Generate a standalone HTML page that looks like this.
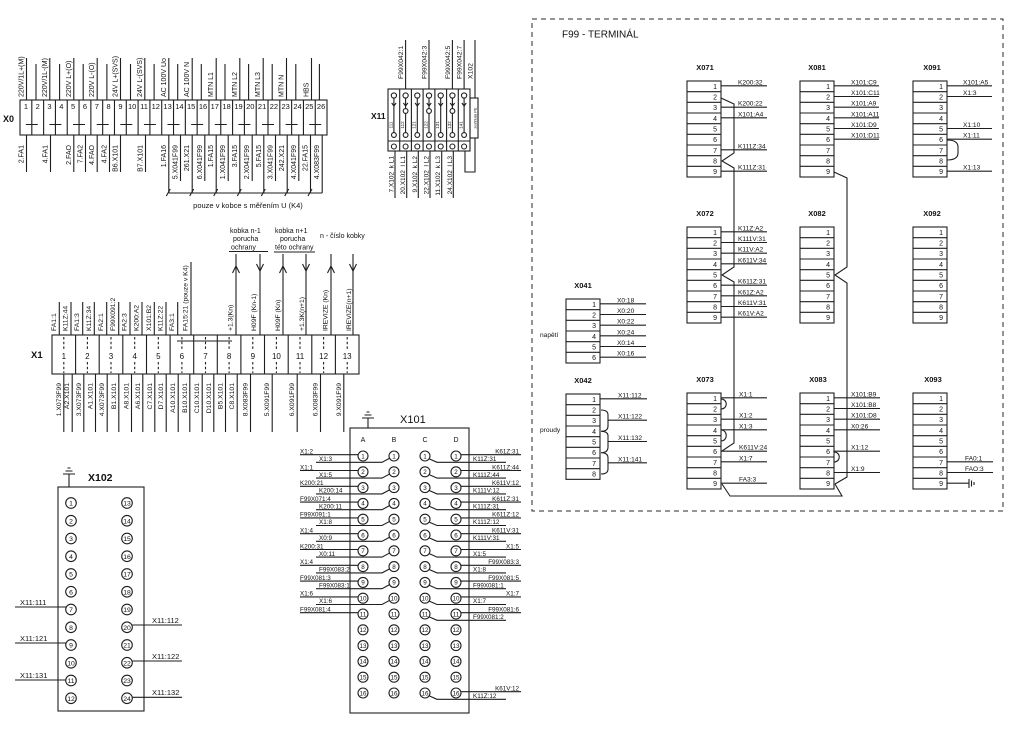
<!DOCTYPE html>
<html><head><meta charset="utf-8">
<style>
html,body{margin:0;padding:0;background:#fff;}
svg{display:block;}
text{font-family:"Liberation Sans",Arial,sans-serif;fill:#111;}
.l{stroke:#1e1e1e;stroke-width:1.1;fill:none;}
.c{stroke:#1e1e1e;stroke-width:1.1;fill:#fff;}
</style></head><body>
<svg width="1024" height="732" viewBox="0 0 1024 732" xmlns="http://www.w3.org/2000/svg">
<defs>
<g id="b9"><rect x="0" y="0" width="34" height="96" fill="none" stroke="#1e1e1e" stroke-width="1.1"/><path d="M0 10.67H34M0 21.33H34M0 32H34M0 42.67H34M0 53.33H34M0 64H34M0 74.67H34M0 85.33H34" fill="none" stroke="#1e1e1e" stroke-width="1.1"/></g>
<g id="b6"><rect x="0" y="0" width="34" height="64" fill="none" stroke="#1e1e1e" stroke-width="1.1"/><path d="M0 10.67H34M0 21.33H34M0 32H34M0 42.67H34M0 53.33H34" fill="none" stroke="#1e1e1e" stroke-width="1.1"/></g>
<g id="b8"><rect x="0" y="0" width="34" height="85.33" fill="none" stroke="#1e1e1e" stroke-width="1.1"/><path d="M0 10.67H34M0 21.33H34M0 32H34M0 42.67H34M0 53.33H34M0 64H34M0 74.67H34" fill="none" stroke="#1e1e1e" stroke-width="1.1"/></g>
</defs>

<!-- ================= X0 ================= -->
<text x="3" y="122" font-size="9" font-weight="bold">X0</text>
<rect class="l" x="20" y="100" width="307" height="35"/>
<path class="l" d="M31.81 100V135M43.62 100V135M55.43 100V135M67.24 100V135M79.05 100V135M90.86 100V135M102.67 100V135M114.48 100V135M126.29 100V135M138.1 100V135M149.91 100V135M161.72 100V135M173.53 100V135M185.34 100V135M197.15 100V135M208.96 100V135M220.77 100V135M232.58 100V135M244.39 100V135M256.2 100V135M268.01 100V135M279.82 100V135M291.63 100V135M303.44 100V135M315.25 100V135"/>
<text font-size="7.5" text-anchor="middle" y="109"><tspan x="25.9">1</tspan><tspan x="37.7">2</tspan><tspan x="49.5">3</tspan><tspan x="61.3">4</tspan><tspan x="73.1">5</tspan><tspan x="84.9">6</tspan><tspan x="96.8">7</tspan><tspan x="108.6">8</tspan><tspan x="120.4">9</tspan><tspan x="132.2">10</tspan><tspan x="144">11</tspan><tspan x="155.8">12</tspan><tspan x="167.6">13</tspan><tspan x="179.4">14</tspan><tspan x="191.2">15</tspan><tspan x="203">16</tspan><tspan x="214.8">17</tspan><tspan x="226.6">18</tspan><tspan x="238.5">19</tspan><tspan x="250.3">20</tspan><tspan x="262.1">21</tspan><tspan x="273.9">22</tspan><tspan x="285.7">23</tspan><tspan x="297.5">24</tspan><tspan x="309.3">25</tspan><tspan x="321.1">26</tspan></text>
<path class="l" stroke-width="1.4" d="M25.8 124.5H37.8M49.4 124.5H61.4M73 124.5H85M96.7 124.5H108.7M120.3 124.5H132.3M143.9 124.5H155.9M167.5 124.5H179.5M191.1 124.5H203.1M214.8 124.5H226.8M238.4 124.5H250.4M262 124.5H274M285.6 124.5H297.6M309.2 124.5H321.2"/>
<!-- top wires -->
<path class="l" d="M26.5 58V100M49.8 58V100M73.8 58V100M97.2 58V100M120.5 58V100M144.8 58V100M168.8 58V100M192.2 58V100M216.2 58V100M239.8 58V100M263.2 58V100M286.5 58V100M311.5 58V100"/>
<path class="l" d="M36 64V100M59.6 64V100M83.2 64V100M106.9 64V100M130.5 64V100M154.1 64V100M177.7 64V100M201.3 64V100M225 64V100M248.6 64V100M272.2 64V100M295.8 64V100M319.4 64V100"/>
<g font-size="7">
<text transform="translate(23.5,97) rotate(-90)">220V/1L+(M)</text>
<text transform="translate(46.8,97) rotate(-90)">220V/1L-(M)</text>
<text transform="translate(70.8,97) rotate(-90)">220V L+(O)</text>
<text transform="translate(94.2,97) rotate(-90)">220V L-(O)</text>
<text transform="translate(117.5,97) rotate(-90)">24V L+(SVS)</text>
<text transform="translate(141.8,97) rotate(-90)">24V L-(SVS)</text>
<text transform="translate(165.8,97) rotate(-90)">AC 100V Uo</text>
<text transform="translate(189.2,97) rotate(-90)">AC 100V N</text>
<text transform="translate(213.2,97) rotate(-90)">MTN L1</text>
<text transform="translate(236.8,97) rotate(-90)">MTN L2</text>
<text transform="translate(260.2,97) rotate(-90)">MTN L3</text>
<text transform="translate(283.5,97) rotate(-90)">MTN N</text>
<text transform="translate(308.5,97) rotate(-90)">HBS</text>
</g>
<!-- bottom wires -->
<path class="l" d="M26.5 135V172M50.5 135V172M73.8 135V172M85.5 135V172M97.2 135V172M109.5 135V172M120.5 135V172M145.5 135V172M168.8 135V193M180.5 135V181M192.2 135V193M204.8 135V181M216.2 135V193M228.2 135V181M239.8 135V193M252.2 135V181M263.8 135V193M275.5 135V181M287.2 135V193M298.8 135V181M310.5 135V193M322.2 135V193M168.8 193H322.2"/>
<path class="l" d="M166.3 196L170.3 189M189.7 196L193.7 189M213.7 196L217.7 189M237.3 196L241.3 189M261.3 196L265.3 189M284.7 196L288.7 189M308 196L312 189"/>
<g font-size="7" text-anchor="end">
<text transform="translate(23.5,145) rotate(-90)">2.FA1</text>
<text transform="translate(47.5,145) rotate(-90)">4.FA1</text>
<text transform="translate(70.8,145) rotate(-90)">2.FAO</text>
<text transform="translate(82.5,145) rotate(-90)">7.FA2</text>
<text transform="translate(94.2,145) rotate(-90)">4.FAO</text>
<text transform="translate(106.5,145) rotate(-90)">4.FA2</text>
<text transform="translate(117.5,145) rotate(-90)">B6.X101</text>
<text transform="translate(142.5,145) rotate(-90)">B7.X101</text>
<text transform="translate(165.8,145) rotate(-90)">1.FA16</text>
<text transform="translate(177.5,145) rotate(-90)">5.X041F99</text>
<text transform="translate(189.2,145) rotate(-90)">261.X21</text>
<text transform="translate(201.8,145) rotate(-90)">6.X041F99</text>
<text transform="translate(213.2,145) rotate(-90)">1.FA15</text>
<text transform="translate(225.2,145) rotate(-90)">1.X041F99</text>
<text transform="translate(236.8,145) rotate(-90)">3.FA15</text>
<text transform="translate(249.2,145) rotate(-90)">2.X041F99</text>
<text transform="translate(260.8,145) rotate(-90)">5.FA15</text>
<text transform="translate(272.5,145) rotate(-90)">3.X041F99</text>
<text transform="translate(284.2,145) rotate(-90)">242.X21</text>
<text transform="translate(295.8,145) rotate(-90)">4.X041F99</text>
<text transform="translate(307.5,145) rotate(-90)">22.FA15</text>
<text transform="translate(319.2,145) rotate(-90)">4.X083F99</text>
</g>
<text x="248" y="208" font-size="7.5" text-anchor="middle">pouze v kobce s měřením U (K4)</text>

<!-- ================= X11 ================= -->
<text x="371" y="119" font-size="8.5" font-weight="bold">X11</text>
<rect class="l" x="388" y="89" width="82" height="62"/>
<path class="l" d="M399.7 89V151M411.4 89V151M423.1 89V151M434.9 89V151M446.6 89V151M458.3 89V151"/>
<path class="l" d="M393.9 98V132.5M405.6 98V132.5M417.3 98V132.5M429 98V132.5M440.7 98V132.5M452.4 98V132.5M464.1 98V132.5"/>
<path class="l" d="M391.7 103L393.9 106L396.1 103M403.4 103L405.6 106L407.8 103M415.1 103L417.3 106L419.5 103M426.8 103L429 106L431.2 103M438.5 103L440.7 106L442.9 103M450.2 103L452.4 106L454.6 103M461.9 103L464.1 106L466.3 103"/>
<g class="c">
<circle cx="393.9" cy="95.5" r="2.6"/><circle cx="405.6" cy="95.5" r="2.6"/><circle cx="417.3" cy="95.5" r="2.6"/><circle cx="429" cy="95.5" r="2.6"/><circle cx="440.7" cy="95.5" r="2.6"/><circle cx="452.4" cy="95.5" r="2.6"/><circle cx="464.1" cy="95.5" r="2.6"/>
<circle cx="405.6" cy="111" r="2.4"/><circle cx="429" cy="111" r="2.4"/><circle cx="452.4" cy="111" r="2.4"/>
<circle cx="393.9" cy="135" r="2.4"/><circle cx="405.6" cy="135" r="2.4"/><circle cx="417.3" cy="135" r="2.4"/><circle cx="429" cy="135" r="2.4"/><circle cx="440.7" cy="135" r="2.4"/><circle cx="452.4" cy="135" r="2.4"/><circle cx="464.1" cy="135" r="2.4"/>
<circle cx="393.9" cy="146.5" r="2.5"/><circle cx="405.6" cy="146.5" r="2.5"/><circle cx="417.3" cy="146.5" r="2.5"/><circle cx="429" cy="146.5" r="2.5"/><circle cx="440.7" cy="146.5" r="2.5"/><circle cx="452.4" cy="146.5" r="2.5"/><circle cx="464.1" cy="146.5" r="2.5"/>
</g>
<path class="l" stroke-width="2.4" d="M388 141H470"/>
<g font-size="4.5" text-anchor="middle">
<text transform="translate(392.3,125) rotate(-90)">111</text>
<text transform="translate(404,125) rotate(-90)">112</text>
<text transform="translate(415.7,125) rotate(-90)">121</text>
<text transform="translate(427.4,125) rotate(-90)">122</text>
<text transform="translate(439.1,125) rotate(-90)">131</text>
<text transform="translate(450.8,125) rotate(-90)">132</text>
<text transform="translate(462.5,125) rotate(-90)">141</text>
</g>
<rect class="l" x="470" y="98" width="8" height="40"/>
<text transform="translate(476.5,118) rotate(-90)" font-size="4" text-anchor="middle">zel/žlutá PE</text>
<path class="l" d="M405.6 40V89M429 40V89M452.4 40V89M464.1 40V89M475 40V98M475 138V172H465V151"/>
<g font-size="6.8">
<text transform="translate(403,79) rotate(-90)">F99X042:1</text>
<text transform="translate(426.5,79) rotate(-90)">F99X042:3</text>
<text transform="translate(450,79) rotate(-90)">F99X042:5</text>
<text transform="translate(461.7,79) rotate(-90)">F99X042:7</text>
<text transform="translate(472.5,79) rotate(-90)">X102</text>
</g>
<path class="l" d="M395 151V198M406.7 151V198M418.3 151V198M430 151V198M441.7 151V198M453.3 151V198"/>
<g font-size="6.5" text-anchor="end">
<text transform="translate(393.5,156) rotate(-90)">7.X102 &#160;k L1</text>
<text transform="translate(405.2,156) rotate(-90)">20.X102 &#160;l L1</text>
<text transform="translate(416.8,156) rotate(-90)">9.X102 &#160;k L2</text>
<text transform="translate(428.5,156) rotate(-90)">22.X102 &#160;l L2</text>
<text transform="translate(440.2,156) rotate(-90)">11.X102 &#160;k L3</text>
<text transform="translate(451.8,156) rotate(-90)">24.X102 &#160;l L3</text>
</g>

<!-- ================= X1 ================= -->
<text x="31" y="358" font-size="9.5" font-weight="bold">X1</text>
<rect class="l" x="52" y="335" width="307" height="39"/>
<path class="l" d="M75.6 335V374M99.2 335V374M122.8 335V374M146.5 335V374M170.1 335V374M193.7 335V374M217.3 335V374M240.9 335V374M264.5 335V374M288.2 335V374M311.8 335V374M335.4 335V374"/>
<path class="l" d="M177 341H232"/>
<path class="l" stroke-dasharray="2.5,2.2" d="M63.8 337V350M63.8 362V373M87.4 337V350M87.4 362V373M111 337V350M111 362V373M134.7 337V350M134.7 362V373M158.3 337V350M158.3 362V373M181.9 337V350M181.9 362V373M205.5 337V350M205.5 362V373M229.1 337V350M229.1 362V373M252.8 337V350M252.8 362V373M276.4 337V350M276.4 362V373M300 337V350M300 362V373M323.6 337V350M323.6 362V373M347.2 337V350M347.2 362V373"/>
<text font-size="8" text-anchor="middle" y="359"><tspan x="63.8">1</tspan><tspan x="87.4">2</tspan><tspan x="111">3</tspan><tspan x="134.7">4</tspan><tspan x="158.3">5</tspan><tspan x="181.9">6</tspan><tspan x="205.5">7</tspan><tspan x="229.1">8</tspan><tspan x="252.8">9</tspan><tspan x="276.4">10</tspan><tspan x="300">11</tspan><tspan x="323.6">12</tspan><tspan x="347.2">13</tspan></text>
<path class="l" d="M59.3 302V335M71 302V335M82.7 302V335M94.3 302V335M106.7 302V335M118.7 302V335M130 302V335M142 302V335M154.3 302V335M166 302V335M177.7 302V335M191 262V335"/>
<path class="l" d="M236 254V335M260 254V335M283 254V335M306 254V335M331 254V335M353 254V335"/>
<path class="l" d="M232.5 273L236 266L239.5 273M256.5 264L260 271L263.5 264M279.5 273L283 266L286.5 273M302.5 264L306 271L309.5 264M327.5 273L331 266L334.5 273M349.5 264L353 271L356.5 264"/>
<g font-size="6.8">
<text transform="translate(55.8,331) rotate(-90)">FA1:1</text>
<text transform="translate(67.5,331) rotate(-90)">K11Z:44</text>
<text transform="translate(79.2,331) rotate(-90)">FA1:3</text>
<text transform="translate(90.8,331) rotate(-90)">K11Z:34</text>
<text transform="translate(103.2,331) rotate(-90)">FA2:1</text>
<text transform="translate(115.2,331) rotate(-90)">F99X091:2</text>
<text transform="translate(126.5,331) rotate(-90)">FA2:3</text>
<text transform="translate(138.5,331) rotate(-90)">K200:A2</text>
<text transform="translate(150.8,331) rotate(-90)">X101:B2</text>
<text transform="translate(162.5,331) rotate(-90)">K11Z:22</text>
<text transform="translate(174.2,331) rotate(-90)">FA3:1</text>
<text transform="translate(187.5,331) rotate(-90)">FA15:21 (pouze v K4)</text>
<text transform="translate(232.5,331) rotate(-90)">+1.3(Kn)</text>
<text transform="translate(255.8,331) rotate(-90)">H09F (Kn-1)</text>
<text transform="translate(279.8,331) rotate(-90)">H09F (Kn)</text>
<text transform="translate(304.2,331) rotate(-90)">+1.3K(n+1)</text>
<text transform="translate(327.5,331) rotate(-90)">IREVIZE (Kn)</text>
<text transform="translate(350.8,331) rotate(-90)">IREVIZE(n+1)</text>
</g>
<g font-size="7">
<text x="230" y="233">kobka n-1</text>
<text x="233" y="241">porucha</text>
<text x="231" y="249.5">ochrany</text>
<text x="275" y="233">kobka n+1</text>
<text x="280" y="241">porucha</text>
<text x="275" y="249.5">této ochrany</text>
<text x="320" y="238">n - číslo kobky</text>
</g>
<path class="l" d="M229 251.5H268M274 252H315"/>
<path class="l" d="M63.8 374V432M72.2 374V432M83.8 374V432M95.5 374V432M107.2 374V432M118.8 374V432M131.5 374V432M142.8 374V432M154.8 374V432M166.2 374V432M178.2 374V432M189.8 374V432M202.2 374V432M213.8 374V432M225.5 374V432M237.2 374V432M250.5 374V432M272.2 374V432M297.2 374V432M320.5 374V432M343.8 374V432"/>
<g font-size="6.8" text-anchor="end">
<text transform="translate(60.8,383) rotate(-90)">1.X073F99</text>
<text transform="translate(69.2,383) rotate(-90)">A2.X101</text>
<text transform="translate(80.8,383) rotate(-90)">3.X073F99</text>
<text transform="translate(92.5,383) rotate(-90)">A1.X101</text>
<text transform="translate(104.2,383) rotate(-90)">4.X073F99</text>
<text transform="translate(115.8,383) rotate(-90)">B1.X101</text>
<text transform="translate(128.5,383) rotate(-90)">A8.X101</text>
<text transform="translate(139.8,383) rotate(-90)">A6.X101</text>
<text transform="translate(151.8,383) rotate(-90)">C7.X101</text>
<text transform="translate(163.2,383) rotate(-90)">D7.X101</text>
<text transform="translate(175.2,383) rotate(-90)">A10.X101</text>
<text transform="translate(186.8,383) rotate(-90)">B10.X101</text>
<text transform="translate(199.2,383) rotate(-90)">C10.X101</text>
<text transform="translate(210.8,383) rotate(-90)">D10.X101</text>
<text transform="translate(222.5,383) rotate(-90)">B5.X101</text>
<text transform="translate(234.2,383) rotate(-90)">C8.X101</text>
<text transform="translate(247.5,383) rotate(-90)">8.X083F99</text>
<text transform="translate(269.2,383) rotate(-90)">5.X091F99</text>
<text transform="translate(294.2,383) rotate(-90)">6.X091F99</text>
<text transform="translate(317.5,383) rotate(-90)">6.X083F99</text>
<text transform="translate(340.8,383) rotate(-90)">9.X091F99</text>
</g>

<!-- ================= X102 ================= -->
<path class="l" d="M69 474V487M63 474H75M65.5 471H72.5M67.5 468H70.5"/>
<text x="88" y="481" font-size="10.5" font-weight="bold">X102</text>
<rect class="l" x="58" y="487" width="86" height="224"/>
<g class="c">
<circle cx="71" cy="503" r="5.3"/><circle cx="71" cy="520.75" r="5.3"/><circle cx="71" cy="538.5" r="5.3"/><circle cx="71" cy="556.25" r="5.3"/><circle cx="71" cy="574" r="5.3"/><circle cx="71" cy="591.75" r="5.3"/><circle cx="71" cy="609.5" r="5.3"/><circle cx="71" cy="627.25" r="5.3"/><circle cx="71" cy="645" r="5.3"/><circle cx="71" cy="662.75" r="5.3"/><circle cx="71" cy="680.5" r="5.3"/><circle cx="71" cy="698.25" r="5.3"/>
<circle cx="127" cy="503" r="5.3"/><circle cx="127" cy="520.75" r="5.3"/><circle cx="127" cy="538.5" r="5.3"/><circle cx="127" cy="556.25" r="5.3"/><circle cx="127" cy="574" r="5.3"/><circle cx="127" cy="591.75" r="5.3"/><circle cx="127" cy="609.5" r="5.3"/><circle cx="127" cy="627.25" r="5.3"/><circle cx="127" cy="645" r="5.3"/><circle cx="127" cy="662.75" r="5.3"/><circle cx="127" cy="680.5" r="5.3"/><circle cx="127" cy="698.25" r="5.3"/>
</g>
<text font-size="6.8" text-anchor="middle"><tspan x="71" y="505.5">1</tspan><tspan x="71" y="523.3">2</tspan><tspan x="71" y="541">3</tspan><tspan x="71" y="558.8">4</tspan><tspan x="71" y="576.5">5</tspan><tspan x="71" y="594.3">6</tspan><tspan x="71" y="612">7</tspan><tspan x="71" y="629.8">8</tspan><tspan x="71" y="647.5">9</tspan><tspan x="71" y="665.3">10</tspan><tspan x="71" y="683">11</tspan><tspan x="71" y="700.8">12</tspan><tspan x="127" y="505.5">13</tspan><tspan x="127" y="523.3">14</tspan><tspan x="127" y="541">15</tspan><tspan x="127" y="558.8">16</tspan><tspan x="127" y="576.5">17</tspan><tspan x="127" y="594.3">18</tspan><tspan x="127" y="612">19</tspan><tspan x="127" y="629.8">20</tspan><tspan x="127" y="647.5">21</tspan><tspan x="127" y="665.3">22</tspan><tspan x="127" y="683">23</tspan><tspan x="127" y="700.8">24</tspan></text>
<path class="l" d="M15 607H66M15 643H66M15 680H66M132 625H182M132 661H182M132 697.3H182"/>
<g font-size="7.5">
<text x="20" y="605">X11:111</text>
<text x="20" y="641">X11:121</text>
<text x="20" y="678">X11:131</text>
<text x="152" y="623">X11:112</text>
<text x="152" y="659">X11:122</text>
<text x="152" y="695">X11:132</text>
</g>

<!-- ================= X101 ================= -->
<path class="l" d="M368 418V428M362 418H374M364.5 415H371.5M366.5 412H369.5"/>
<text x="400" y="423" font-size="11">X101</text>
<rect class="l" x="350" y="428" width="119" height="285"/>
<text font-size="7" text-anchor="middle" y="442"><tspan x="363">A</tspan><tspan x="394">B</tspan><tspan x="425">C</tspan><tspan x="456">D</tspan></text>
<path class="l" d="M300 454.7H358M300 470.5H358M300 486.3H358M300 502.1H358M300 517.9H358M300 533.7H358M300 549.5H358M300 565.3H358M300 581.1H358M300 596.9H358M300 612.7H358"/>
<path class="l" d="M316 462.3H382L390 458M316 478.1H382L390 473.8M316 493.9H382L390 489.6M316 509.7H382L390 505.4M316 525.5H382L390 521.2M316 541.3H382L390 537M316 557.1H382L390 552.8M316 572.9H382L390 568.6M316 588.7H382L390 584.4M316 604.5H382L390 600.2"/>
<path class="l" d="M461 454.7H521M461 470.5H521M461 486.3H521M461 502.1H521M461 517.9H521M461 533.7H521M461 549.5H521M461 565.3H521M461 581.1H521M461 596.9H521M461 612.7H521M461 691.7H521"/>
<path class="l" d="M429.5 459L437 462.3H506M429.5 474.8L437 478.1H506M429.5 490.6L437 493.9H506M429.5 506.4L437 509.7H506M429.5 522.2L437 525.5H506M429.5 538L437 541.3H506M429.5 553.8L437 557.1H506M429.5 569.6L437 572.9H506M429.5 585.4L437 588.7H506M429.5 601.2L437 604.5H506M429.5 617L437 620.3H506M429.5 696L437 699.3H506"/>
<g class="c">
<circle cx="363" cy="456" r="5"/><circle cx="363" cy="471.8" r="5"/><circle cx="363" cy="487.6" r="5"/><circle cx="363" cy="503.4" r="5"/><circle cx="363" cy="519.2" r="5"/><circle cx="363" cy="535" r="5"/><circle cx="363" cy="550.8" r="5"/><circle cx="363" cy="566.6" r="5"/><circle cx="363" cy="582.4" r="5"/><circle cx="363" cy="598.2" r="5"/><circle cx="363" cy="614" r="5"/><circle cx="363" cy="629.8" r="5"/><circle cx="363" cy="645.6" r="5"/><circle cx="363" cy="661.4" r="5"/><circle cx="363" cy="677.2" r="5"/><circle cx="363" cy="693" r="5"/>
<circle cx="394" cy="456" r="5"/><circle cx="394" cy="471.8" r="5"/><circle cx="394" cy="487.6" r="5"/><circle cx="394" cy="503.4" r="5"/><circle cx="394" cy="519.2" r="5"/><circle cx="394" cy="535" r="5"/><circle cx="394" cy="550.8" r="5"/><circle cx="394" cy="566.6" r="5"/><circle cx="394" cy="582.4" r="5"/><circle cx="394" cy="598.2" r="5"/><circle cx="394" cy="614" r="5"/><circle cx="394" cy="629.8" r="5"/><circle cx="394" cy="645.6" r="5"/><circle cx="394" cy="661.4" r="5"/><circle cx="394" cy="677.2" r="5"/><circle cx="394" cy="693" r="5"/>
<circle cx="425" cy="456" r="5"/><circle cx="425" cy="471.8" r="5"/><circle cx="425" cy="487.6" r="5"/><circle cx="425" cy="503.4" r="5"/><circle cx="425" cy="519.2" r="5"/><circle cx="425" cy="535" r="5"/><circle cx="425" cy="550.8" r="5"/><circle cx="425" cy="566.6" r="5"/><circle cx="425" cy="582.4" r="5"/><circle cx="425" cy="598.2" r="5"/><circle cx="425" cy="614" r="5"/><circle cx="425" cy="629.8" r="5"/><circle cx="425" cy="645.6" r="5"/><circle cx="425" cy="661.4" r="5"/><circle cx="425" cy="677.2" r="5"/><circle cx="425" cy="693" r="5"/>
<circle cx="456" cy="456" r="5"/><circle cx="456" cy="471.8" r="5"/><circle cx="456" cy="487.6" r="5"/><circle cx="456" cy="503.4" r="5"/><circle cx="456" cy="519.2" r="5"/><circle cx="456" cy="535" r="5"/><circle cx="456" cy="550.8" r="5"/><circle cx="456" cy="566.6" r="5"/><circle cx="456" cy="582.4" r="5"/><circle cx="456" cy="598.2" r="5"/><circle cx="456" cy="614" r="5"/><circle cx="456" cy="629.8" r="5"/><circle cx="456" cy="645.6" r="5"/><circle cx="456" cy="661.4" r="5"/><circle cx="456" cy="677.2" r="5"/><circle cx="456" cy="693" r="5"/>
</g>
<g font-size="6.3" text-anchor="middle">
<text><tspan x="363" y="458.3">1</tspan><tspan x="363" y="474.1">2</tspan><tspan x="363" y="489.9">3</tspan><tspan x="363" y="505.7">4</tspan><tspan x="363" y="521.5">5</tspan><tspan x="363" y="537.3">6</tspan><tspan x="363" y="553.1">7</tspan><tspan x="363" y="568.9">8</tspan><tspan x="363" y="584.7">9</tspan><tspan x="363" y="600.5">10</tspan><tspan x="363" y="616.3">11</tspan><tspan x="363" y="632.1">12</tspan><tspan x="363" y="647.9">13</tspan><tspan x="363" y="663.7">14</tspan><tspan x="363" y="679.5">15</tspan><tspan x="363" y="695.3">16</tspan></text>
<text><tspan x="394" y="458.3">1</tspan><tspan x="394" y="474.1">2</tspan><tspan x="394" y="489.9">3</tspan><tspan x="394" y="505.7">4</tspan><tspan x="394" y="521.5">5</tspan><tspan x="394" y="537.3">6</tspan><tspan x="394" y="553.1">7</tspan><tspan x="394" y="568.9">8</tspan><tspan x="394" y="584.7">9</tspan><tspan x="394" y="600.5">10</tspan><tspan x="394" y="616.3">11</tspan><tspan x="394" y="632.1">12</tspan><tspan x="394" y="647.9">13</tspan><tspan x="394" y="663.7">14</tspan><tspan x="394" y="679.5">15</tspan><tspan x="394" y="695.3">16</tspan></text>
<text><tspan x="425" y="458.3">1</tspan><tspan x="425" y="474.1">2</tspan><tspan x="425" y="489.9">3</tspan><tspan x="425" y="505.7">4</tspan><tspan x="425" y="521.5">5</tspan><tspan x="425" y="537.3">6</tspan><tspan x="425" y="553.1">7</tspan><tspan x="425" y="568.9">8</tspan><tspan x="425" y="584.7">9</tspan><tspan x="425" y="600.5">10</tspan><tspan x="425" y="616.3">11</tspan><tspan x="425" y="632.1">12</tspan><tspan x="425" y="647.9">13</tspan><tspan x="425" y="663.7">14</tspan><tspan x="425" y="679.5">15</tspan><tspan x="425" y="695.3">16</tspan></text>
<text><tspan x="456" y="458.3">1</tspan><tspan x="456" y="474.1">2</tspan><tspan x="456" y="489.9">3</tspan><tspan x="456" y="505.7">4</tspan><tspan x="456" y="521.5">5</tspan><tspan x="456" y="537.3">6</tspan><tspan x="456" y="553.1">7</tspan><tspan x="456" y="568.9">8</tspan><tspan x="456" y="584.7">9</tspan><tspan x="456" y="600.5">10</tspan><tspan x="456" y="616.3">11</tspan><tspan x="456" y="632.1">12</tspan><tspan x="456" y="647.9">13</tspan><tspan x="456" y="663.7">14</tspan><tspan x="456" y="679.5">15</tspan><tspan x="456" y="695.3">16</tspan></text>
</g>
<g font-size="6.3">
<text x="300" y="453.5">X1:2</text>
<text x="300" y="469.3">X1:1</text>
<text x="300" y="485.1">K200:21</text>
<text x="300" y="500.9">F99X071:4</text>
<text x="300" y="516.7">F99X091:1</text>
<text x="300" y="532.5">X1:4</text>
<text x="300" y="548.3">K200:31</text>
<text x="300" y="564.1">X1:4</text>
<text x="300" y="579.9">F99X081:3</text>
<text x="300" y="595.7">X1:6</text>
<text x="300" y="611.5">F99X081:4</text>
<text x="319" y="461">X1:3</text>
<text x="319" y="476.8">X1:5</text>
<text x="319" y="492.6">K200:14</text>
<text x="319" y="508.4">K200:11</text>
<text x="319" y="524.2">X1:8</text>
<text x="319" y="540">X0:9</text>
<text x="319" y="555.8">X0:11</text>
<text x="319" y="571.6">F99X083:2</text>
<text x="319" y="587.4">F99X083:1</text>
<text x="319" y="603.2">X1:6</text>
<text x="473" y="461">K11Z:31</text>
<text x="473" y="476.8">K111Z:44</text>
<text x="473" y="492.6">K111V:12</text>
<text x="473" y="508.4">K111Z:31</text>
<text x="473" y="524.2">K111Z:12</text>
<text x="473" y="540">K111V:31</text>
<text x="473" y="555.8">X1:5</text>
<text x="473" y="571.6">X1:8</text>
<text x="473" y="587.4">F99X081:1</text>
<text x="473" y="603.2">X1:7</text>
<text x="473" y="619">F99X081:2</text>
<text x="473" y="698">K11Z:12</text>
</g>
<g font-size="6.3" text-anchor="end">
<text x="519" y="453.5">K61Z:31</text>
<text x="519" y="469.3">K611Z:44</text>
<text x="519" y="485.1">K611V:12</text>
<text x="519" y="500.9">K611Z:31</text>
<text x="519" y="516.7">K611Z:12</text>
<text x="519" y="532.5">K611V:31</text>
<text x="519" y="548.3">X1:5</text>
<text x="519" y="564.1">F99X083:3</text>
<text x="519" y="579.9">F99X081:5</text>
<text x="519" y="595.7">X1:7</text>
<text x="519" y="611.5">F99X081:6</text>
<text x="519" y="690.5">K61V:12</text>
</g>

<!-- ================= F99 TERMINAL ================= -->
<rect x="532" y="19" width="471" height="492" fill="none" stroke="#2a2a2a" stroke-width="1" stroke-dasharray="5,4"/>
<text x="562" y="37.5" font-size="10">F99 - TERMINÁL</text>

<g font-size="7.5" font-weight="bold" text-anchor="middle">
<text x="705" y="70">X071</text><text x="817" y="70">X081</text><text x="932" y="70">X091</text>
<text x="705" y="216">X072</text><text x="817" y="216">X082</text><text x="932" y="216">X092</text>
<text x="583" y="288">X041</text>
<text x="583" y="383">X042</text><text x="705" y="382">X073</text><text x="818" y="382">X083</text><text x="933" y="382">X093</text>
</g>

<use href="#b9" x="687" y="81"/><use href="#b9" x="800" y="81"/><use href="#b9" x="913" y="81"/>
<use href="#b9" x="687" y="227"/><use href="#b9" x="800" y="227"/><use href="#b9" x="913" y="227"/>
<use href="#b9" x="687" y="393"/><use href="#b9" x="800" y="393"/><use href="#b9" x="913" y="393"/>
<use href="#b6" x="566" y="299"/>
<use href="#b8" x="566" y="394"/>

<g font-size="7" text-anchor="end">
<text><tspan x="717" y="88.8">1</tspan><tspan x="717" y="99.5">2</tspan><tspan x="717" y="110.2">3</tspan><tspan x="717" y="120.8">4</tspan><tspan x="717" y="131.5">5</tspan><tspan x="717" y="142.2">6</tspan><tspan x="717" y="152.8">7</tspan><tspan x="717" y="163.5">8</tspan><tspan x="717" y="174.2">9</tspan></text>
<text><tspan x="830" y="88.8">1</tspan><tspan x="830" y="99.5">2</tspan><tspan x="830" y="110.2">3</tspan><tspan x="830" y="120.8">4</tspan><tspan x="830" y="131.5">5</tspan><tspan x="830" y="142.2">6</tspan><tspan x="830" y="152.8">7</tspan><tspan x="830" y="163.5">8</tspan><tspan x="830" y="174.2">9</tspan></text>
<text><tspan x="943" y="88.8">1</tspan><tspan x="943" y="99.5">2</tspan><tspan x="943" y="110.2">3</tspan><tspan x="943" y="120.8">4</tspan><tspan x="943" y="131.5">5</tspan><tspan x="943" y="142.2">6</tspan><tspan x="943" y="152.8">7</tspan><tspan x="943" y="163.5">8</tspan><tspan x="943" y="174.2">9</tspan></text>
<text><tspan x="717" y="234.8">1</tspan><tspan x="717" y="245.5">2</tspan><tspan x="717" y="256.2">3</tspan><tspan x="717" y="266.8">4</tspan><tspan x="717" y="277.5">5</tspan><tspan x="717" y="288.2">6</tspan><tspan x="717" y="298.8">7</tspan><tspan x="717" y="309.5">8</tspan><tspan x="717" y="320.2">9</tspan></text>
<text><tspan x="830" y="234.8">1</tspan><tspan x="830" y="245.5">2</tspan><tspan x="830" y="256.2">3</tspan><tspan x="830" y="266.8">4</tspan><tspan x="830" y="277.5">5</tspan><tspan x="830" y="288.2">6</tspan><tspan x="830" y="298.8">7</tspan><tspan x="830" y="309.5">8</tspan><tspan x="830" y="320.2">9</tspan></text>
<text><tspan x="943" y="234.8">1</tspan><tspan x="943" y="245.5">2</tspan><tspan x="943" y="256.2">3</tspan><tspan x="943" y="266.8">4</tspan><tspan x="943" y="277.5">5</tspan><tspan x="943" y="288.2">6</tspan><tspan x="943" y="298.8">7</tspan><tspan x="943" y="309.5">8</tspan><tspan x="943" y="320.2">9</tspan></text>
<text><tspan x="717" y="400.8">1</tspan><tspan x="717" y="411.5">2</tspan><tspan x="717" y="422.2">3</tspan><tspan x="717" y="432.8">4</tspan><tspan x="717" y="443.5">5</tspan><tspan x="717" y="454.2">6</tspan><tspan x="717" y="464.8">7</tspan><tspan x="717" y="475.5">8</tspan><tspan x="717" y="486.2">9</tspan></text>
<text><tspan x="830" y="400.8">1</tspan><tspan x="830" y="411.5">2</tspan><tspan x="830" y="422.2">3</tspan><tspan x="830" y="432.8">4</tspan><tspan x="830" y="443.5">5</tspan><tspan x="830" y="454.2">6</tspan><tspan x="830" y="464.8">7</tspan><tspan x="830" y="475.5">8</tspan><tspan x="830" y="486.2">9</tspan></text>
<text><tspan x="943" y="400.8">1</tspan><tspan x="943" y="411.5">2</tspan><tspan x="943" y="422.2">3</tspan><tspan x="943" y="432.8">4</tspan><tspan x="943" y="443.5">5</tspan><tspan x="943" y="454.2">6</tspan><tspan x="943" y="464.8">7</tspan><tspan x="943" y="475.5">8</tspan><tspan x="943" y="486.2">9</tspan></text>
<text><tspan x="596" y="306.8">1</tspan><tspan x="596" y="317.5">2</tspan><tspan x="596" y="328.2">3</tspan><tspan x="596" y="338.8">4</tspan><tspan x="596" y="349.5">5</tspan><tspan x="596" y="360.2">6</tspan></text>
<text><tspan x="596" y="401.8">1</tspan><tspan x="596" y="412.5">2</tspan><tspan x="596" y="423.2">3</tspan><tspan x="596" y="433.8">4</tspan><tspan x="596" y="444.5">5</tspan><tspan x="596" y="455.2">6</tspan><tspan x="596" y="465.8">7</tspan><tspan x="596" y="476.5">8</tspan></text>
</g>

<path class="l" d="M721 85.8H767M721 107.2H767M721 117.8H767M721 149.8H767M721 171.2H767
M834 85.8H879M834 96.5H879M834 107.2H879M834 117.8H879M834 128.5H879M834 139.2H879
M947 85.8H992M947 96.5H992M947 128.5H992M947 139.2H992M947 171.2H992
M721 231.8H767M721 242.5H767M721 253.2H767M721 263.8H767M721 285.2H767M721 295.8H767M721 306.5H767M721 317.2H767
M600 303.8H646M600 314.5H646M600 325.2H646M600 335.8H646M600 346.5H646M600 357.2H646
M721 397.8H767M721 419.2H767M721 429.8H767M721 451.2H767M721 461.8H767M721 483.2H767
M834 397.8H880M834 408.5H880M834 419.2H880M834 429.8H880M834 451.2H880M834 472.5H880
M947 461.8H993M947 472.5H993
M600 398.8H647M608 420.2H647M608 441.5H647M608 462.8H647"/>
<path class="l" d="M721 98L734 104V153L722 161L734 168V267L722 275L734 282V443L722 451"/>
<path class="l" d="M834 172L847 178V267L835 275L847 283V477L835 484"/>
<path class="l" d="M722 484L730 496H842L835 484"/>
<path class="l" d="M721 399C728 399 728 409 721 409M721 430C728 430 728 441 721 441M834 452C841 452 841 462 834 462"/>
<path class="l" d="M947 140Q958 140 958 147V153Q958 160 947 160"/>
<path class="l" d="M601 410Q608 410 608 415V426Q608 431.3 601 431.3M601 431.3Q608 431.3 608 436V447Q608 452.7 601 452.7M601 452.7Q608 452.7 608 458V469Q608 474 601 474"/>
<path class="l" d="M947 483.2H969M969 479V488M971.5 480.5V486.5M974 482V485"/>

<g font-size="6.6">
<text x="738" y="84.3">K200:32</text>
<text x="738" y="105.7">K200:22</text>
<text x="738" y="116.3">X101:A4</text>
<text x="738" y="148.3">K111Z:34</text>
<text x="738" y="169.7">K111Z:31</text>
<text x="851" y="84.3">X101:C9</text>
<text x="851" y="95">X101:C11</text>
<text x="851" y="105.7">X101:A9</text>
<text x="851" y="116.3">X101:A11</text>
<text x="851" y="127">X101:D9</text>
<text x="851" y="137.7">X101:D11</text>
<text x="963" y="84.3">X101:A5</text>
<text x="963" y="95">X1:3</text>
<text x="963" y="127">X1:10</text>
<text x="963" y="137.7">X1:11</text>
<text x="963" y="169.7">X1:13</text>
<text x="738" y="230.3">K11Z:A2</text>
<text x="738" y="241">K111V:31</text>
<text x="738" y="251.7">K11V:A2</text>
<text x="738" y="262.3">K611V:34</text>
<text x="738" y="283.7">K611Z:31</text>
<text x="738" y="294.3">K61Z:A2</text>
<text x="738" y="305">K611V:31</text>
<text x="738" y="315.7">K61V:A2</text>
<text x="617" y="302.3">X0:18</text>
<text x="617" y="313">X0:20</text>
<text x="617" y="323.7">X0:22</text>
<text x="617" y="334.3">X0:24</text>
<text x="617" y="345">X0:14</text>
<text x="617" y="355.7">X0:16</text>
<text x="739" y="396.3">X1:1</text>
<text x="739" y="417.7">X1:2</text>
<text x="739" y="428.3">X1:3</text>
<text x="739" y="449.7">K611V:24</text>
<text x="739" y="460.3">X1:7</text>
<text x="739" y="481.7">FA3:3</text>
<text x="851" y="396.3">X101:B9</text>
<text x="851" y="407">X101:B8</text>
<text x="851" y="417.7">X101:D8</text>
<text x="851" y="428.3">X0:26</text>
<text x="851" y="449.7">X1:12</text>
<text x="851" y="471">X1:9</text>
<text x="965" y="460.3">FA0:1</text>
<text x="965" y="471">FAO:3</text>
<text x="618" y="397.3">X11:112</text>
<text x="618" y="418.7">X11:122</text>
<text x="618" y="440">X11:132</text>
<text x="618" y="461.3">X11:141</text>
<text x="540" y="337">napětí</text>
<text x="540" y="432">proudy</text>
</g>
</svg>
</body></html>
